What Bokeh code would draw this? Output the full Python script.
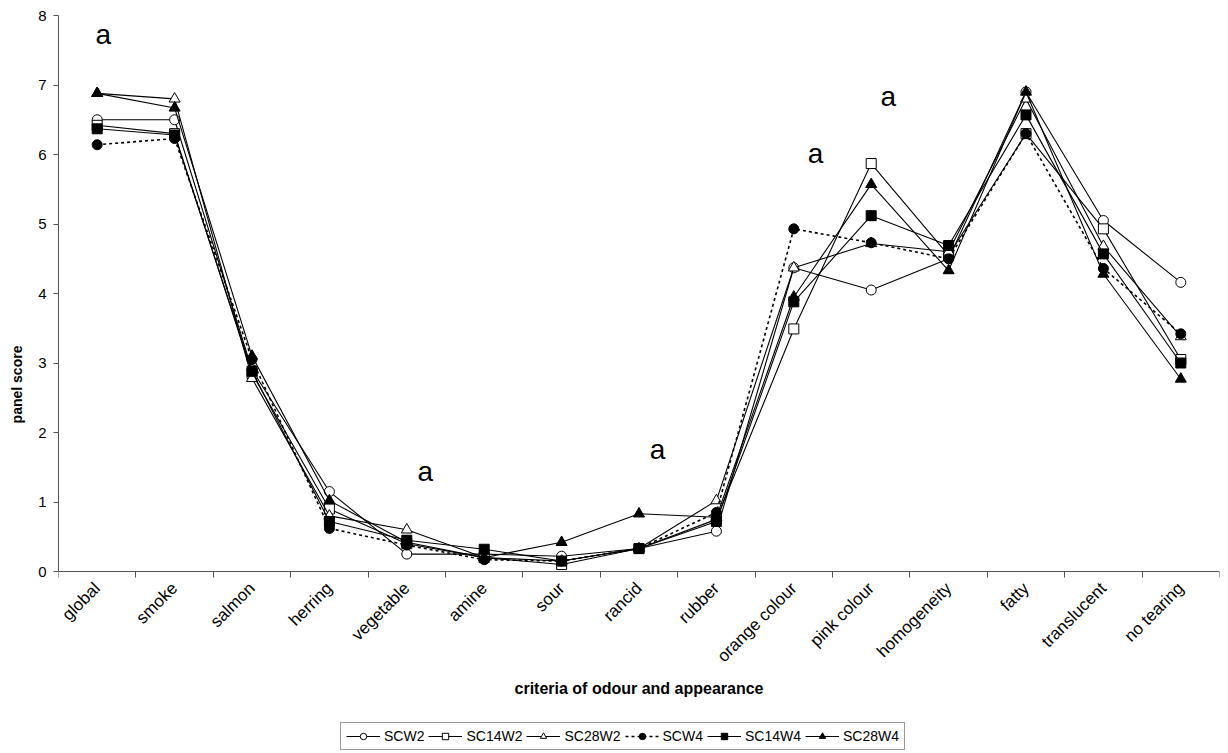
import math
from bokeh.plotting import figure
from bokeh.models import FixedTicker, Legend, LegendItem, ColumnDataSource, Range1d
from bokeh.core.properties import value
from bokeh.embed import file_html
from bokeh.resources import INLINE

categories = ["global", "smoke", "salmon", "herring", "vegetable", "amine", "sour",
              "rancid", "rubber", "orange colour", "pink colour", "homogeneity",
              "fatty", "translucent", "no tearing"]

SCW2 = [6.5, 6.5, 2.9, 1.15, 0.25, 0.25, 0.22, 0.33, 0.58, 4.37, 4.05, 4.5, 6.9, 5.05, 4.16]
SC14W2 = [6.42, 6.3, 2.85, 0.9, 0.4, 0.2, 0.1, 0.33, 0.75, 3.49, 5.87, 4.55, 6.3, 4.93, 3.05]
SC28W2 = [6.88, 6.8, 2.78, 0.8, 0.6, 0.2, 0.15, 0.33, 1.02, 4.37, 4.72, 4.6, 6.8, 4.68, 3.38]
SCW4 = [6.14, 6.23, 3.05, 0.62, 0.38, 0.17, 0.15, 0.33, 0.85, 4.93, 4.73, 4.5, 6.3, 4.36, 3.42]
SC14W4 = [6.37, 6.28, 2.88, 0.72, 0.45, 0.32, 0.15, 0.33, 0.72, 3.88, 5.12, 4.69, 6.57, 4.57, 3.0]
SC28W4 = [6.88, 6.67, 3.1, 1.02, 0.42, 0.2, 0.42, 0.83, 0.78, 3.95, 5.57, 4.33, 6.9, 4.28, 2.77]

series_names = ["SCW2", "SC14W2", "SC28W2", "SCW4", "SC14W4", "SC28W4"]
series_values = [SCW2, SC14W2, SC28W2, SCW4, SC14W4, SC28W4]
series_markers = ["circle", "square", "triangle", "circle", "square", "triangle"]
series_fill = ["white", "white", "white", "black", "black", "black"]
series_dash = ["solid", "solid", "solid", "3 3", "solid", "solid"]

annot_cats = ["global", "vegetable", "rancid", "orange colour", "pink colour"]
annot_shift = [0.08, 0.24, 0.24, 0.28, 0.22]
annot_y = [7.72, 1.44, 1.76, 6.02, 6.84]
annot_text = ["a", "a", "a", "a", "a"]

y_ticks = [0, 1, 2, 3, 4, 5, 6, 7, 8]
y_max = 8

FONT = "Liberation Sans"

xs = [i + 0.5 for i in range(len(categories))]

# frame spans from the top of the value axis down to the legend; value 0 sits 556px below the top
FRAME_H = 738
PX_PER_UNIT = 556 / y_max
y_min = -(FRAME_H - 556) / PX_PER_UNIT

p = figure(frame_width=1161, frame_height=FRAME_H, output_backend="svg",
           toolbar_location=None, x_range=Range1d(0, len(categories)),
           y_range=Range1d(y_min, y_max),
           min_border_left=58, min_border_top=15, min_border_right=5,
           min_border_bottom=0)
p.outline_line_color = None
p.xgrid.visible = False
p.ygrid.visible = False

# x axis: labels at category centers, ticks at category boundaries, drawn at value 0
p.xaxis.fixed_location = 0
p.xaxis.ticker = FixedTicker(ticks=xs, minor_ticks=list(range(len(categories) + 1)))
p.xaxis.major_label_overrides = {x: c for x, c in zip(xs, categories)}
p.xaxis.major_tick_out = 0
p.xaxis.major_tick_in = 0
p.xaxis.minor_tick_out = 6
p.xaxis.minor_tick_in = 0
p.xaxis.minor_tick_line_color = "#555555"
p.xaxis.major_label_orientation = math.pi / 4
p.xaxis.major_label_text_font = FONT
p.xaxis.major_label_text_font_size = "17px"
p.xaxis.major_label_text_color = "black"
p.xaxis.major_label_standoff = 8
p.xaxis.axis_label = "criteria of odour and appearance"
p.xaxis.axis_label_text_font = FONT
p.xaxis.axis_label_text_font_size = "16px"
p.xaxis.axis_label_text_font_style = "bold"
p.xaxis.axis_label_text_color = "black"
p.xaxis.axis_label_standoff = 5
p.xaxis.axis_line_color = "#555555"

p.yaxis.bounds = (0, y_max)
p.yaxis.ticker = FixedTicker(ticks=y_ticks, minor_ticks=[])
p.yaxis.major_tick_out = 5
p.yaxis.major_tick_in = 0
p.yaxis.major_tick_line_color = "#555555"
p.yaxis.axis_line_color = "#555555"
p.yaxis.major_label_text_font = FONT
p.yaxis.major_label_text_font_size = "15px"
p.yaxis.major_label_text_color = "black"
p.yaxis.major_label_standoff = 7
p.yaxis.axis_label = "panel score"
p.yaxis.axis_label_text_font = FONT
p.yaxis.axis_label_text_font_size = "14px"
p.yaxis.axis_label_text_font_style = "bold"
p.yaxis.axis_label_text_color = "black"
p.yaxis.axis_label_standoff = 10

items = []
for name, vals, mk, fill, dash in zip(series_names, series_values, series_markers,
                                      series_fill, series_dash):
    src = ColumnDataSource(dict(x=xs, y=vals))
    lw = 1.6 if dash != "solid" else 1.1
    ln = p.line("x", "y", source=src, line_color="black", line_width=lw, line_dash=dash)
    size = 11 if mk == "triangle" else 10
    sc = p.scatter("x", "y", source=src, marker=mk, size=size, fill_color=fill,
                   line_color="black", line_width=1)
    items.append(LegendItem(label=name, renderers=[ln, sc]))

ax = [categories.index(c) + 0.5 + s for c, s in zip(annot_cats, annot_shift)]
p.text(x=ax, y=annot_y, text=annot_text, text_font=value(FONT),
       text_font_size="28px", text_align="center", text_baseline="middle",
       text_color="black")

legend = Legend(items=items, orientation="horizontal", location=(282, 3))
legend.label_text_font = FONT
legend.label_text_font_size = "14px"
legend.label_text_color = "black"
legend.label_height = 16
legend.glyph_width = 34
legend.glyph_height = 16
legend.label_standoff = 4
legend.spacing = 4
legend.padding = 5
legend.margin = 0
legend.border_line_color = "#333333"
legend.border_line_width = 1
legend.background_fill_alpha = 1
p.add_layout(legend, "center")

open("out.html", "w").write(file_html(p, INLINE))
